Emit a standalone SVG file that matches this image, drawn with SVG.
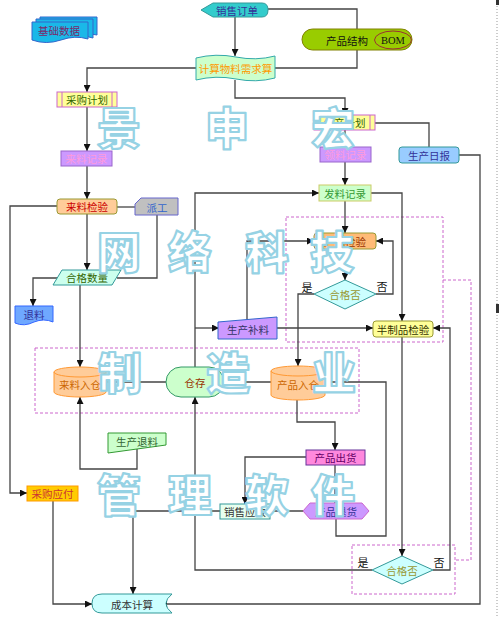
<svg xmlns="http://www.w3.org/2000/svg" width="500" height="617" viewBox="0 0 500 617">
<defs>
<marker id="ah" markerUnits="userSpaceOnUse" markerWidth="8" markerHeight="7" refX="7" refY="3.5" orient="auto" viewBox="0 0 8 7">
<path d="M0,0 L7,3.5 L0,7 Z" fill="#111"/>
</marker>
<style>
.c{fill:none;stroke:#444;stroke-width:1.3}
.a{marker-end:url(#ah)}
.d{fill:none;stroke:#cc66cc;stroke-width:1;stroke-dasharray:3 2}
.t{font-family:"Noto Sans CJK SC","Liberation Sans",sans-serif;font-size:10.5px;text-anchor:middle;dominant-baseline:central}
.l{font-family:"Noto Sans CJK SC","Liberation Sans",sans-serif;font-size:11px;text-anchor:middle;dominant-baseline:central;fill:#111}
.w{font-family:"Noto Sans CJK SC",sans-serif;font-size:44px;font-weight:900;text-anchor:middle;fill:#fff;stroke:#96d2e4;stroke-width:2.2;stroke-linejoin:round}
</style>
</defs>
<rect width="500" height="617" fill="#fff"/>
<line x1="497" y1="0" x2="497" y2="617" stroke="#999" stroke-dasharray="1 2"/>
<rect x="496" y="0" width="3" height="5" fill="#333"/>
<rect x="496" y="304" width="3" height="9" fill="#333"/>

<g id="groups">
<rect class="d" x="35" y="348" width="324" height="65"/>
<rect class="d" x="286" y="217" width="157" height="125"/>
<path class="d" d="M443,280 H471 V560 H455"/>
<rect class="d" x="352" y="545" width="103" height="49"/>
</g>

<g id="connectors">
<path class="c a" d="M235,17 V56"/>
<path class="c" d="M268,9 H357 V29"/>
<path class="c" d="M357,50 V68 H275"/>
<path class="c a" d="M196,68 H87 V92"/>
<path class="c a" d="M235,80 V98 H345 V115"/>
<path class="c a" d="M87,107 V151"/>
<path class="c a" d="M87,166 V199"/>
<path class="c" d="M117,207 H135"/>
<path class="c" d="M157,215 V278 H117"/>
<path class="c a" d="M57,206 H10 V493 H27"/>
<path class="c a" d="M87,214 V270"/>
<path class="c a" d="M58,278 H33 V306"/>
<path class="c a" d="M80,285 V367"/>
<path class="c" d="M106,382 H166"/>
<path class="c" d="M224,382 H271"/>
<path class="c a" d="M137,449 V469 H80 V397"/>
<path class="c a" d="M195,367 V193 H319"/>
<path class="c a" d="M195,328 H219"/>
<path class="c a" d="M247,320 V241 H314"/>
<path class="c a" d="M345,201 V233"/>
<path class="c a" d="M371,193 H402 V321"/>
<path class="c a" d="M345,162 V185"/>
<path class="c a" d="M345,130 V147"/>
<path class="c" d="M375,123 H429 V147"/>
<path class="c a" d="M459,155 H480 V604 H160"/>
<path class="c a" d="M345,249 V280"/>
<path class="c a" d="M376,294 H393 V241 H376"/>
<path class="c a" d="M314,294 H298 V366"/>
<path class="c a" d="M277,328 H373"/>
<path class="c a" d="M402,337 V556"/>
<path class="c a" d="M433,570 H450 V328 H433"/>
<path class="c a" d="M372,570 H195 V397"/>
<path class="c a" d="M297,400 V422 H335 V450"/>
<path class="c a" d="M336,519 V536 H386 V382 H325"/>
<path class="c a" d="M306,457 H245 V504"/>
<path class="c a" d="M335,465 V503"/>
<path class="c" d="M303,511 H270"/>
<path class="c a" d="M220,511 H133 V594"/>
<path class="c a" d="M53,501 V604 H92"/>
</g>

<g id="jichushuju">
<path d="M40,17 H97 V35 Q84,32 70,36 Q55,40 40,36 Z" fill="#1ab8e8" stroke="#3366cc"/>
<path d="M36,19 H93 V38 Q80,34 66,38 Q51,42 36,38 Z" fill="#1ab8e8" stroke="#3366cc"/>
<path d="M32,22 H88 V39 Q75,35 61,40 Q46,45 32,40 Z" fill="#1ab8e8" stroke="#3366cc"/>
<text class="t" x="59" y="30" fill="#7a2a6a">基础数据</text>
</g>
<g id="xiaoshoudingdan">
<path d="M201,10 L213,3 H262 Q268,3 268,10 Q268,17 262,17 H213 Z" fill="#33cccc" stroke="#339999"/>
<text class="t" x="237" y="10" fill="#333399">销售订单</text>
</g>
<g id="chanpinjiegou">
<rect x="302" y="29" width="110" height="21" rx="10.5" fill="#99cc00" stroke="#808000"/>
<ellipse cx="393" cy="40" rx="18.5" ry="9" fill="#99cc00" stroke="#993333"/>
<text class="t" x="347" y="40" fill="#111">产品结构</text>
<text x="393" y="40" font-family="Liberation Serif,serif" font-size="10.5" text-anchor="middle" dominant-baseline="central" fill="#111">BOM</text>
</g>
<g id="jisuan">
<path d="M196,58 Q216,53 236,57 Q256,61 275,56 V78 Q256,83 236,79 Q216,75 196,80 Z" fill="#ccffcc" stroke="#33aaaa"/>
<text class="t" x="235.5" y="68" fill="#ff9900">计算物料需求算</text>
</g>
<g id="caigoujihua">
<rect x="57" y="92" width="60" height="15" fill="#ffff99" stroke="#cc66cc"/>
<path d="M62,92 V107 M112,92 V107" stroke="#cc66cc" fill="none"/>
<text class="t" x="87" y="99.5" fill="#336600">采购计划</text>
</g>
<g id="lailiaojilu">
<rect x="61" y="151" width="51" height="15" fill="#cc99ff" stroke="#9966cc"/>
<text class="t" x="86.5" y="158.5" fill="#ff99dd">来料记录</text>
</g>
<g id="lailiaojianyan">
<rect x="57" y="199" width="60" height="15" rx="3" fill="#ffcc99" stroke="#999933"/>
<text class="t" x="87" y="206.5" fill="#cc0000">来料检验</text>
</g>
<g id="paigong">
<path d="M141,198 H178 V215 H135 V204 Z" fill="#c0c0c0" stroke="#6666cc"/>
<text class="t" x="157" y="207" fill="#3366cc">派工</text>
</g>
<g id="hegeshuliang">
<polygon points="62,270 121,270 112,285 53,285" fill="#ccffee" stroke="#339999"/>
<text class="t" x="87" y="277.5" fill="#336600">合格数量</text>
</g>
<g id="tuiliao">
<path d="M15,306 H53 V322 Q44,318 34,322 Q24,327 15,323 Z" fill="#6fa8ff" stroke="#3366ff"/>
<text class="t" x="34" y="314.5" fill="#333399">退料</text>
</g>
<g id="lailiaoruchang">
<path d="M54,372 A26,5 0 0 1 106,372 V392 A26,5 0 0 1 54,392 Z" fill="#ffcc99" stroke="#ff9933"/>
<path d="M54,372 A26,5 0 0 0 106,372" fill="none" stroke="#ff9933"/>
<text class="t" x="80" y="384" fill="#cc6600">来料入仓</text>
</g>
<g id="cangcun">
<rect x="166" y="367" width="58" height="30" rx="15" fill="#ccffcc" stroke="#339966"/>
<text class="t" x="195" y="382" fill="#993300">仓存</text>
</g>
<g id="chanpinruchang">
<path d="M271,371 A27,5 0 0 1 325,371 V395 A27,5 0 0 1 271,395 Z" fill="#ffcc99" stroke="#ff9933"/>
<path d="M271,371 A27,5 0 0 0 325,371" fill="none" stroke="#ff9933"/>
<text class="t" x="298" y="384" fill="#cc6600">产品入仓</text>
</g>
<g id="shengchantuiliao">
<polygon points="108,433 166,433 166,445 108,453" fill="#ccffcc" stroke="#339933"/>
<text class="t" x="137" y="441" fill="#336633">生产退料</text>
</g>
<g id="shengchanbuliao">
<polygon points="218,322 277,317 277,339 218,339" fill="#cc99ff" stroke="#3366cc"/>
<text class="t" x="248" y="329.5" fill="#333366">生产补料</text>
</g>
<g id="chanpinjianyan">
<rect x="314" y="233" width="62" height="16" rx="3" fill="#ffbb77" stroke="#999933"/>
<text class="t" x="345" y="241" fill="#993300">产品检验</text>
</g>
<g id="hegefou1">
<polygon points="345,280 376,294 345,309 314,294" fill="#ccffff" stroke="#339999"/>
<text class="t" x="345" y="294.5" fill="#999933">合格否</text>
<text class="l" x="307" y="287">是</text>
<text class="l" x="382" y="286">否</text>
</g>
<g id="banzhipinjianyan">
<rect x="373" y="321" width="60" height="16" rx="3" fill="#ffff99" stroke="#999933"/>
<text class="t" x="403" y="329" fill="#333300">半制品检验</text>
</g>
<g id="faliaojilu">
<rect x="319" y="185" width="52" height="16" fill="#ccffcc" stroke="#cccc66"/>
<text class="t" x="345" y="193" fill="#339933">发料记录</text>
</g>
<g id="lingliaojilu">
<rect x="320" y="147" width="51" height="15" fill="#cc99ff" stroke="#9966cc"/>
<text class="t" x="345.5" y="154.5" fill="#ff99dd">领料记录</text>
</g>
<g id="shengchanjihua">
<rect x="314" y="115" width="61" height="15" fill="#ffff99" stroke="#cc66cc"/>
<path d="M319,115 V130 M370,115 V130" stroke="#cc66cc" fill="none"/>
<text class="t" x="344.5" y="122.5" fill="#336600">生产计划</text>
</g>
<g id="shengchanribao">
<rect x="399" y="147" width="60" height="16" rx="3" fill="#99ccff" stroke="#339999"/>
<text class="t" x="429" y="155" fill="#333399">生产日报</text>
</g>
<g id="chanpinchuhuo">
<rect x="306" y="450" width="59" height="15" fill="#ff88dd" stroke="#663399"/>
<text class="t" x="335.5" y="457.5" fill="#660066">产品出货</text>
</g>
<g id="chanpintuihuo">
<polygon points="303,511 310,503 362,503 369,511 362,519 310,519" fill="#cc99ff" stroke="#cc66cc"/>
<text class="t" x="336" y="511" fill="#333399">产品退货</text>
</g>
<g id="xiaoshouyingshou">
<rect x="220" y="504" width="50" height="15" fill="#e8fff0" stroke="#339999"/>
<text class="t" x="245" y="511.5" fill="#333333">销售应收</text>
</g>
<g id="caigouyingfu">
<rect x="27" y="486" width="51" height="15" fill="#ffcc00" stroke="#ff9900"/>
<text class="t" x="52.5" y="493.5" fill="#cc3333">采购应付</text>
</g>
<g id="hegefou2">
<polygon points="402,556 433,570 402,584 372,570" fill="#ccffff" stroke="#339999"/>
<text class="t" x="402" y="570.5" fill="#999933">合格否</text>
<text class="l" x="363" y="562">是</text>
<text class="l" x="439" y="562">否</text>
</g>
<g id="chengbenjisuan">
<path d="M102,594 H172 Q160,603.5 172,613 H102 Q92,613 92,603.5 Q92,594 102,594 Z" fill="#ccffff" stroke="#339999"/>
<text class="t" x="132" y="604" fill="#333333">成本计算</text>
</g>

<g id="watermark">
<text class="w" x="119" y="145">景</text>
<text class="w" x="227" y="145">申</text>
<text class="w" x="333" y="145">宏</text>
<text class="w" x="119" y="269">网</text>
<text class="w" x="190" y="269">络</text>
<text class="w" x="267" y="269">科</text>
<text class="w" x="332" y="269">技</text>
<text class="w" x="120" y="390">制</text>
<text class="w" x="228" y="390">造</text>
<text class="w" x="334" y="390">业</text>
<text class="w" x="119" y="512">管</text>
<text class="w" x="190" y="512">理</text>
<text class="w" x="267" y="512">软</text>
<text class="w" x="333" y="512">件</text>
</g>
</svg>
